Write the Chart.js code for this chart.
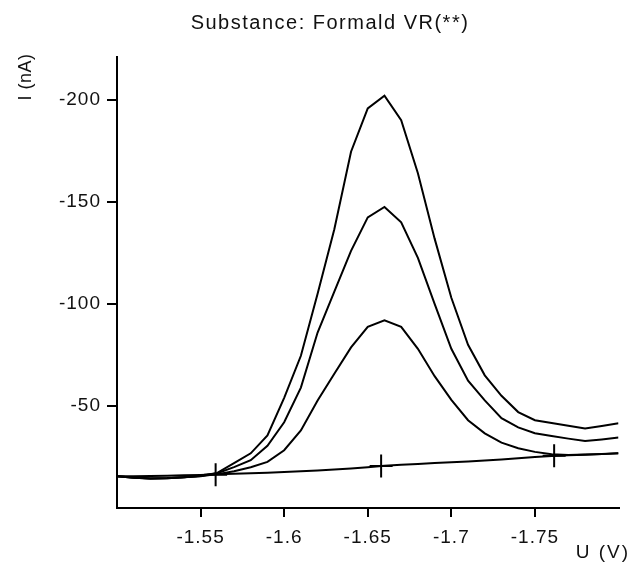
<!DOCTYPE html>
<html>
<head>
<meta charset="utf-8">
<script src="https://cdn.jsdelivr.net/npm/chart.js@4.4.1/dist/chart.umd.min.js"></script>
<style>
  html, body { margin: 0; padding: 0; background: #fff; }
  #wrap { width: 632px; height: 569px; }
</style>
</head>
<body>
<div id="wrap"><canvas id="chart" width="632" height="569"></canvas></div>
<script>
// potential U (V), one sample every 10 mV
var uValues = [-1.50, -1.51, -1.52, -1.53, -1.54, -1.55, -1.56, -1.57, -1.58, -1.59,
               -1.60, -1.61, -1.62, -1.63, -1.64, -1.65, -1.66, -1.67, -1.68, -1.69,
               -1.70, -1.71, -1.72, -1.73, -1.74, -1.75, -1.76, -1.77, -1.78, -1.79, -1.80];

// current I (nA)
var iBlank = [-15.5, -15.6, -15.7, -15.8, -16.0, -16.2, -16.5, -16.8, -17.0, -17.3,
              -17.6, -18.0, -18.4, -18.9, -19.4, -20.0, -20.7, -21.2, -21.6, -22.0,
              -22.4, -22.8, -23.3, -23.8, -24.4, -25.0, -25.5, -25.8, -26.1, -26.4, -26.8];
var iLow   = [-15.6, -14.9, -14.5, -14.7, -15.1, -15.6, -16.6, -18.0, -20.0, -22.6,
              -28.3, -38.0, -52.7, -65.8, -78.7, -88.8, -92.0, -88.8, -78.0, -64.6,
              -53.0, -43.0, -36.6, -32.0, -29.3, -27.5, -26.3, -26.0, -26.2, -26.5, -26.8];
var iMid   = [-15.6, -14.8, -14.4, -14.6, -15.1, -15.7, -17.0, -20.0, -23.4, -30.5,
              -42.0, -59.0, -86.0, -106.0, -126.0, -142.4, -147.5, -140.0, -122.6, -100.0,
              -78.0, -62.4, -52.7, -44.0, -39.5, -36.6, -35.3, -34.0, -32.8, -33.6, -34.5];
var iHigh  = [-15.6, -14.8, -14.4, -14.6, -15.1, -15.8, -17.2, -22.0, -26.8, -35.6,
              -54.0, -74.6, -105.0, -136.6, -174.6, -195.8, -202.0, -190.0, -164.0, -132.0,
              -103.0, -80.0, -65.0, -55.0, -47.0, -43.0, -41.7, -40.3, -39.0, -40.2, -41.5];

// baseline markers
var markU = [-1.559, -1.658, -1.7615];
var markI = [-16.3, -20.6, -25.6];

var uTicks = [-1.55, -1.6, -1.65, -1.7, -1.75];
var iTicks = [-200, -150, -100, -50];

var FONT = "'Liberation Sans', Arial, sans-serif";

function points(arr) {
  return uValues.map(function(u, i) { return {x: u, y: arr[i]}; });
}

function curve(arr) {
  return {
    data: points(arr),
    borderColor: '#000',
    borderWidth: 2,
    pointRadius: 0,
    tension: 0,
    fill: false
  };
}

////Labels drawn around the plot/////
var labelsPlugin = {
  id: 'labels',
  beforeDraw: function(chart) {
    var ctx = chart.ctx;
    ctx.save();
    ctx.fillStyle = '#fff';
    ctx.fillRect(0, 0, chart.width, chart.height);
    ctx.restore();
    ctx.letterSpacing = '1px';
  },
  afterDraw: function(chart) {
    var ctx = chart.ctx;
    ctx.save();
    ctx.fillStyle = '#111';
    ctx.textBaseline = 'middle';

    ctx.letterSpacing = '1.5px';
    ctx.font = '20px ' + FONT;
    ctx.textAlign = 'center';
    ctx.fillText('Substance: Formald VR(**)', 330, 23);

    ctx.letterSpacing = '2px';
    ctx.font = '19px ' + FONT;
    ctx.textAlign = 'right';
    ctx.fillText('U (V)', 630, 553);

    ctx.letterSpacing = '0.5px';
    ctx.font = '18px ' + FONT;
    ctx.translate(26, 77);
    ctx.rotate(-Math.PI / 2);
    ctx.textAlign = 'center';
    ctx.fillText('I (nA)', 0, 0);
    ctx.restore();
  }
};

var datasets = [curve(iBlank), curve(iLow), curve(iMid), curve(iHigh)];
datasets.push({
  data: markU.map(function(u, i) { return {x: u, y: markI[i]}; }),
  showLine: false,
  pointStyle: 'cross',
  pointRadius: 11.5,
  pointBorderWidth: 2,
  pointBorderColor: '#000',
  borderColor: '#000'
});

var chart = new Chart(document.getElementById('chart'), {
  type: 'line',
  data: { datasets: datasets },
  plugins: [labelsPlugin],
  options: {
    responsive: false,
    animation: false,
    devicePixelRatio: 1,
    layout: { padding: { top: 57, right: 10, left: 0, bottom: 0 } },
    plugins: {
      legend: { display: false },
      title: { display: false },
      tooltip: { enabled: false }
    },
    scales: {
      x: {
        type: 'linear',
        min: -1.8,
        max: -1.5,
        reverse: true,
        afterBuildTicks: function(scale) {
          scale.ticks = uTicks.map(function(v) { return {value: v}; });
        },
        afterFit: function(scale) { scale.height = 61; },
        grid: { drawOnChartArea: false, color: '#000', lineWidth: 2, tickLength: 9 },
        border: { color: '#000', width: 2 },
        ticks: {
          color: '#111',
          autoSkip: false,
          maxRotation: 0,
          padding: 9,
          font: { family: FONT, size: 19 },
          callback: function(v) { return String(+v.toFixed(2)); }
        }
      },
      y: {
        type: 'linear',
        min: -221,
        max: 0,
        reverse: true,
        afterBuildTicks: function(scale) {
          scale.ticks = iTicks.map(function(v) { return {value: v}; });
        },
        afterFit: function(scale) { scale.width = 117; },
        grid: { drawOnChartArea: false, color: '#000', lineWidth: 2, tickLength: 10 },
        border: { color: '#000', width: 2 },
        ticks: {
          color: '#111',
          padding: 6,
          font: { family: FONT, size: 19 },
          callback: function(v) { return String(v); }
        }
      }
    }
  }
});
</script>
</body>
</html>
